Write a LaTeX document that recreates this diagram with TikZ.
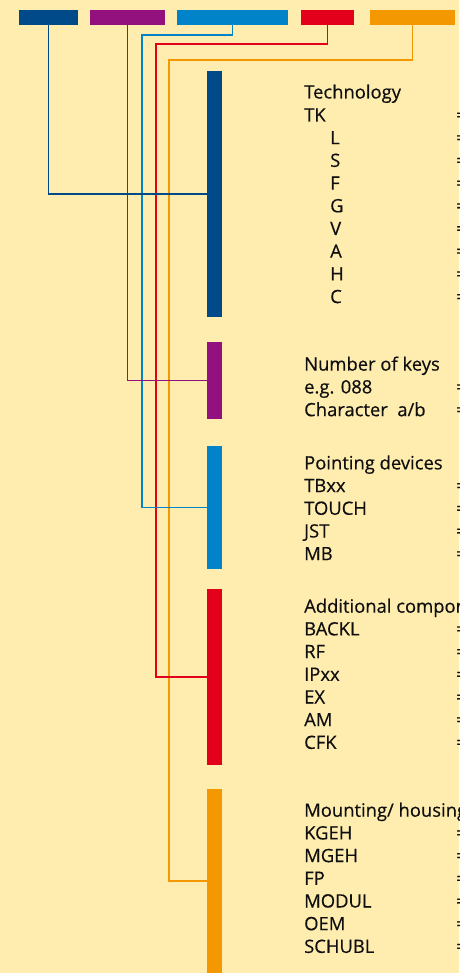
\documentclass[tikz,border=0pt]{standalone}
\usepackage{fontspec}
\newfontfamily\lblfont{Open Sans}[FakeBold=0.4]
\usetikzlibrary{positioning}

\definecolor{paper}{RGB}{255,237,176}
\definecolor{ink}{RGB}{15,15,15}
\definecolor{techblue}{RGB}{0,74,138}
\definecolor{keypurple}{RGB}{147,17,126}
\definecolor{pointblue}{RGB}{0,131,200}
\definecolor{addred}{RGB}{226,0,26}
\definecolor{mountorange}{RGB}{243,152,0}

\begin{document}
\begin{tikzpicture}[x=1pt,y=-1pt,
    codebox/.style={inner sep=0pt,minimum height=15pt},
    groupbar/.style={inner sep=0pt,minimum width=15pt},
    lead/.style={line width=1.3pt},
    lbl/.style={anchor=base west,inner sep=0pt,text=ink,font=\lblfont\fontsize{18.4}{20}\selectfont}]
    \fill [paper] (0,0) rectangle (459,973);
    \useasboundingbox (0,0) rectangle (459,973);
    % code boxes on top
    \node [codebox,fill=techblue,minimum width=59pt] (techbox) at (48.5,17.5) {};
    \node [codebox,fill=keypurple,minimum width=75pt] (keybox) at (127.5,17.5) {};
    \node [codebox,fill=pointblue,minimum width=111pt] (pointbox) at (232.5,17.5) {};
    \node [codebox,fill=addred,minimum width=53pt] (addbox) at (327.5,17.5) {};
    \node [codebox,fill=mountorange,minimum width=85pt] (mountbox) at (412.5,17.5) {};
    % group bars
    \node [groupbar,fill=techblue,minimum height=246pt] (techbar) at (214.5,194) {};
    \node [groupbar,fill=keypurple,minimum height=77pt] (keybar) at (214.5,380.5) {};
    \node [groupbar,fill=pointblue,minimum height=123pt] (pointbar) at (214.5,507.5) {};
    \node [groupbar,fill=addred,minimum height=176pt] (addbar) at (214.5,677) {};
    \node [groupbar,fill=mountorange,minimum height=184pt] (mountbar) at (214.5,881) {};
    % knees of the leads
    \coordinate (pointknee) at (142,35);
    \coordinate (addknee) at (156,44);
    \coordinate (mountknee) at (169,60);
    % leads
    \draw [lead,mountorange] (mountbox.south) |- (mountknee) |- (mountbar.west);
    \draw [lead,addred] (addbox.south) |- (addknee) |- (addbar.west);
    \draw [lead,pointblue] (pointbox.south) |- (pointknee) |- (pointbar.west);
    \draw [lead,keypurple] (keybox.south) |- (keybar.west);
    \draw [lead,techblue] (techbox.south) |- (techbar.west);
    % technology
    \node [lbl] (techhead) at (304,98.5) {Technology};
    \node [lbl] (tk) at (304,121.5) {TK};
    \node [lbl] (tkl) at (330,144.2) {L};
    \node [lbl] (tks) at (330,166.9) {S};
    \node [lbl] (tkf) at (330,189.6) {F};
    \node [lbl] (tkg) at (330,212.3) {G};
    \node [lbl] (tkv) at (330,235) {V};
    \node [lbl] (tka) at (330,257.7) {A};
    \node [lbl] (tkh) at (330,280.4) {H};
    \node [lbl] (tkc) at (330,303.1) {C};
    \node [lbl] (eqtk) at (456,121.5) {=};
    \node [lbl] (eql) at (456,144.2) {=};
    \node [lbl] (eqs) at (456,166.9) {=};
    \node [lbl] (eqf) at (456,189.6) {=};
    \node [lbl] (eqg) at (456,212.3) {=};
    \node [lbl] (eqv) at (456,235) {=};
    \node [lbl] (eqa) at (456,257.7) {=};
    \node [lbl] (eqh) at (456,280.4) {=};
    \node [lbl] (eqc) at (456,303.1) {=};
    % number of keys
    \node [lbl] (keyhead) at (304,370.6) {Number of keys};
    \node [lbl] (keyeg) at (304,393.4) {e.g. 088};
    \node [lbl] (keychar) at (304,416.2) {Character~~a/b};
    \node [lbl] (eqeg) at (456,393.4) {=};
    \node [lbl] (eqchar) at (456,416.2) {=};
    % pointing devices
    \node [lbl] (pointhead) at (304,469.4) {Pointing devices};
    \node [lbl] (tbxx) at (304,492.1) {TBxx};
    \node [lbl] (touch) at (304,514.8) {TOUCH};
    \node [lbl] (jst) at (304,537.5) {JST};
    \node [lbl] (mb) at (304,560.2) {MB};
    \node [lbl] (eqtbxx) at (456,492.1) {=};
    \node [lbl] (eqtouch) at (456,514.8) {=};
    \node [lbl] (eqjst) at (456,537.5) {=};
    \node [lbl] (eqmb) at (456,560.2) {=};
    % additional components
    \node [lbl] (addhead) at (304,612.7) {Additional components};
    \node [lbl] (backl) at (304,635.4) {BACKL};
    \node [lbl] (rf) at (304,658.1) {RF};
    \node [lbl] (ipxx) at (304,680.8) {IPxx};
    \node [lbl] (ex) at (304,703.5) {EX};
    \node [lbl] (am) at (304,726.2) {AM};
    \node [lbl] (cfk) at (304,748.9) {CFK};
    \node [lbl] (eqbackl) at (456,635.4) {=};
    \node [lbl] (eqrf) at (456,658.1) {=};
    \node [lbl] (eqipxx) at (456,680.8) {=};
    \node [lbl] (eqex) at (456,703.5) {=};
    \node [lbl] (eqam) at (456,726.2) {=};
    \node [lbl] (eqcfk) at (456,748.9) {=};
    % mounting / housing
    \node [lbl] (mounthead) at (304,816.7) {Mounting/ housing};
    \node [lbl] (kgeh) at (304,839.4) {KGEH};
    \node [lbl] (mgeh) at (304,862.1) {MGEH};
    \node [lbl] (fp) at (304,884.8) {FP};
    \node [lbl] (modul) at (304,907.5) {MODUL};
    \node [lbl] (oem) at (304,930.2) {OEM};
    \node [lbl] (schubl) at (304,952.9) {SCHUBL};
    \node [lbl] (eqkgeh) at (456,839.4) {=};
    \node [lbl] (eqmgeh) at (456,862.1) {=};
    \node [lbl] (eqfp) at (456,884.8) {=};
    \node [lbl] (eqmodul) at (456,907.5) {=};
    \node [lbl] (eqoem) at (456,930.2) {=};
    \node [lbl] (eqschubl) at (456,952.9) {=};
\end{tikzpicture}
\end{document}
